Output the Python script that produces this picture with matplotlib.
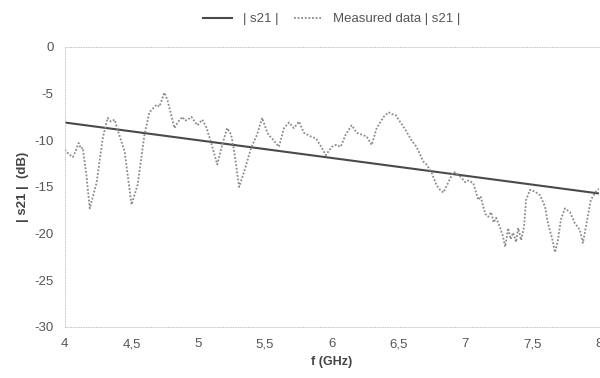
import matplotlib
matplotlib.use("Agg")
import matplotlib.pyplot as plt
from matplotlib.ticker import FuncFormatter

plt.rcParams['font.family'] = ['Liberation Sans', 'DejaVu Sans']
plt.rcParams['axes.unicode_minus'] = False

# fitted |s21| line
fit_f = [4.0, 8.0]
fit_db = [-8.1, -15.7]

# measured |s21|
meas_f = [4.000, 4.030, 4.060, 4.080, 4.104, 4.120, 4.134, 4.160, 4.187, 4.239, 4.284,
          4.321, 4.345, 4.373, 4.396, 4.448, 4.500, 4.545, 4.597, 4.634, 4.660,
          4.687, 4.709, 4.746, 4.769, 4.821, 4.850, 4.881, 4.900, 4.918, 4.948,
          4.993, 5.030, 5.060, 5.097, 5.142, 5.179, 5.216, 5.246, 5.269, 5.306,
          5.343, 5.396, 5.440, 5.478, 5.515, 5.530, 5.552, 5.604, 5.642, 5.679,
          5.716, 5.754, 5.791, 5.843, 5.881, 5.925, 5.955, 6.000, 6.030, 6.067,
          6.104, 6.149, 6.187, 6.224, 6.261, 6.299, 6.336, 6.388, 6.425, 6.450,
          6.478, 6.515, 6.552, 6.597, 6.634, 6.687, 6.709, 6.746, 6.784, 6.810,
          6.836, 6.873, 6.910, 6.933, 6.970, 7.000, 7.022, 7.060, 7.097, 7.115,
          7.134, 7.150, 7.172, 7.194, 7.212, 7.231, 7.261, 7.280, 7.299, 7.321,
          7.340, 7.358, 7.380, 7.396, 7.418, 7.440, 7.455, 7.485, 7.522, 7.560,
          7.597, 7.619, 7.650, 7.672, 7.694, 7.716, 7.746, 7.784, 7.821, 7.858,
          7.881, 7.903, 7.940, 7.978, 8.000]
meas_db = [-11.0, -11.5, -11.8, -11.2, -10.3, -10.9, -10.8, -13.5, -17.3, -14.5, -9.8,
           -7.6, -8.0, -7.8, -8.9, -11.2, -16.9, -14.8, -9.4, -7.0, -6.6,
           -6.2, -6.4, -4.9, -5.7, -8.7, -8.0, -7.5, -7.9, -7.8, -7.5,
           -8.4, -7.8, -8.6, -10.3, -12.6, -10.5, -8.7, -9.4, -11.2, -15.0,
           -13.4, -10.8, -9.4, -7.6, -9.1, -9.5, -9.8, -10.7, -8.7, -8.1,
           -8.7, -8.0, -9.2, -9.6, -9.8, -10.8, -11.6, -10.7, -10.5, -10.7,
           -9.4, -8.4, -9.2, -9.4, -9.6, -10.5, -8.7, -7.5, -7.0, -7.2,
           -7.3, -8.1, -8.9, -10.0, -10.7, -12.3, -12.6, -13.4, -14.8, -15.3,
           -15.6, -14.5, -13.4, -13.5, -14.0, -14.5, -14.3, -14.6, -16.4, -16.0,
           -17.1, -17.9, -18.2, -17.7, -18.8, -18.3, -19.4, -20.2, -21.4, -19.4,
           -20.6, -19.9, -20.9, -19.4, -20.7, -19.3, -16.4, -15.3, -15.5, -15.9,
           -17.1, -18.9, -20.5, -22.0, -20.7, -18.5, -17.3, -17.7, -18.9, -19.6,
           -21.0, -19.3, -16.4, -15.5, -15.2]

fig = plt.figure(figsize=(6.0, 3.78), dpi=100)
ax = fig.add_axes([0.108, 0.135, 0.89, 0.741])

ax.plot(fit_f, fit_db, color='#4a4a4a', lw=1.5, label='| s21 |')
ax.plot(meas_f, meas_db, color='#8a8a8a', lw=1.3, ls=(0, (1, 1)), label='Measured data | s21 |')

ax.set_xlim(4, 8)
ax.set_ylim(-30, 0)
ax.set_xticks([4, 4.5, 5, 5.5, 6, 6.5, 7, 7.5, 8])
ax.set_yticks([0, -5, -10, -15, -20, -25, -30])
ax.xaxis.set_major_formatter(FuncFormatter(lambda v, p: ('%g' % v).replace('.', ',')))
ax.tick_params(length=0, labelsize=9.5, colors='#555555', pad=8)

for s in ['top', 'left', 'bottom']:
    ax.spines[s].set_color('#cccccc')
    ax.spines[s].set_linewidth(0.7)
    ax.spines[s].set_linestyle(':')
ax.spines['right'].set_visible(False)

ax.set_xlabel('f (GHz)', fontsize=9, fontweight='bold', color='#444444', labelpad=4)
ax.set_ylabel('| s21 |  (dB)', fontsize=9.5, fontweight='bold', color='#444444', labelpad=4)

ax.legend(loc='lower center', bbox_to_anchor=(0.5, 1.035), ncol=2, frameon=False,
          fontsize=9.5, handlelength=2.2, columnspacing=1.2, labelcolor='#555555')

fig.savefig('out.png', dpi=100)
